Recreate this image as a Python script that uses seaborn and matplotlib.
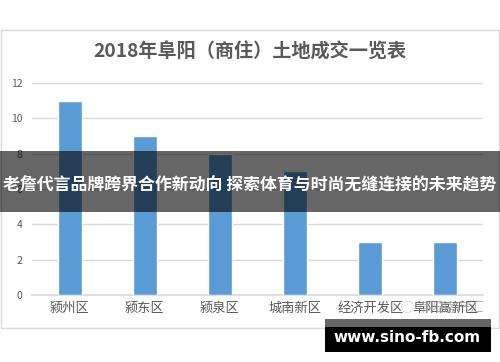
import matplotlib
matplotlib.use("Agg")
import matplotlib.pyplot as plt
import seaborn as sns
import pandas as pd
from matplotlib.patches import Rectangle

categories = ["颍州区", "颍东区", "颍泉区", "城南新区", "经济开发区", "阜阳高新区"]
values = [11, 9, 8, 7, 3, 3]
yticks = [0, 2, 4, 6, 8, 10, 12]
title = "2018年阜阳（商住）土地成交一览表"
banner = "老詹代言品牌跨界合作新动向 探索体育与时尚无缝连接的未来趋势"
site = "www.sino-fb.com"
mark = "阜阳房产汇"

sns.set_theme(style="white")
plt.rcParams['font.family'] = ['Noto Sans CJK SC', 'DejaVu Sans']

W, H = 500, 362
fig = plt.figure(figsize=(5, 3.62), dpi=100)
fig.patch.set_facecolor("white")

def fx(x): return x / W
def fy(y): return 1 - y / H

# outer chart frame
fig.patches.append(Rectangle((fx(1), fy(328)), fx(498), (328 - 30) / H,
                             transform=fig.transFigure, fill=False,
                             edgecolor="#d9d9d9", linewidth=1.0, zorder=0))

ax = fig.add_axes([fx(32), fy(295), fx(483 - 32), (295 - 83) / H])
df = pd.DataFrame({"cat": categories, "val": values})
sns.barplot(data=df, x="cat", y="val", color="#5B9BD5", width=0.32,
            saturation=1, ax=ax, zorder=3)
ax.set_ylim(0, 12)
ax.set_yticks(yticks)
ax.set_xlabel("")
ax.set_ylabel("")
ax.grid(axis="y", color="#d9d9d9", linewidth=1.0, zorder=0)
for s in ["top", "right", "left"]:
    ax.spines[s].set_visible(False)
ax.spines["bottom"].set_color("#d9d9d9")
ax.tick_params(axis="y", length=0, labelsize=7.5, labelcolor="#595959", pad=7)
ax.tick_params(axis="x", length=0, labelsize=9.5, labelcolor="#595959", pad=5)

fig.text(0.5, fy(52), title, ha="center", va="center", fontsize=13.8,
         fontweight="bold", color="#595959")

# watermark near last label
fig.text(fx(442), fy(308), "◌ " + mark, ha="center", va="center", fontsize=9.5,
         color="#7f7f7f", alpha=0.6)

# dark banner
fig.patches.append(Rectangle((0, fy(212)), 1, (212 - 151) / H,
                             transform=fig.transFigure, facecolor="black",
                             alpha=0.6, edgecolor="none", zorder=10))
fig.text(0.5, fy(185), banner, ha="center", va="center", fontsize=12.2,
         fontweight="bold", color="white", zorder=11)

# site box
fig.patches.append(Rectangle((fx(325), fy(327)), fx(166), (327 - 319) / H,
                             transform=fig.transFigure, facecolor="#666666",
                             edgecolor="none", zorder=10))
fig.patches.append(Rectangle((fx(325), fy(352)), fx(166), (352 - 327) / H,
                             transform=fig.transFigure, facecolor="black",
                             edgecolor="none", zorder=10))
fig.text(fx(407), fy(338), site, ha="center", va="center", fontsize=11,
         fontweight="bold", color="white", family=["DejaVu Sans"], zorder=11)

fig.savefig("out.png", dpi=100)
